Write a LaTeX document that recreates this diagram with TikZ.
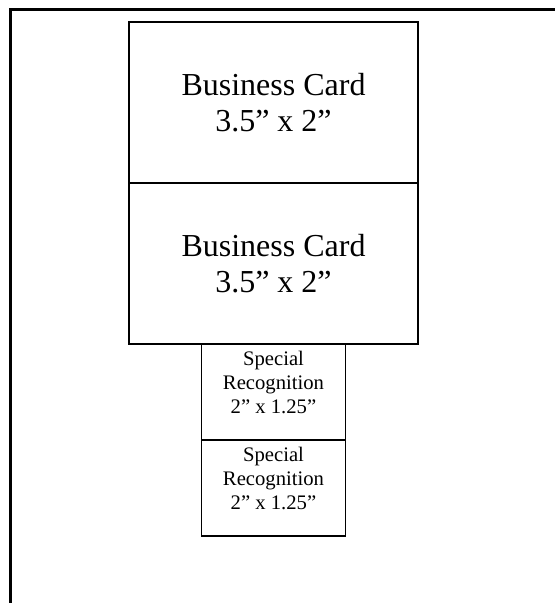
\documentclass[tikz,border=0pt]{standalone}
\usepackage{fontspec}
\setmainfont{Liberation Serif}
\usetikzlibrary{positioning}

% text hangs from the top of a small box
\newcommand{\awardtext}[1]{\parbox[c][72pt][t]{108pt}{\centering\rule{0pt}{15.75pt}#1}}

\begin{document}
\begin{tikzpicture}
	[x=0.75pt,y=-0.75pt%
	,every node/.style={draw=black,%
		rectangle,%
		line width=1.3pt,%
		outer sep=0pt,%
		inner sep=0pt}%
	,card/.style={minimum width=216.75pt,minimum height=120.75pt,%
		align=center,%
		font=\fontsize{24}{27}\selectfont}%
	,award/.style={minimum width=108pt,minimum height=72pt,%
		font=\fontsize{15.5}{18}\selectfont}]
	\useasboundingbox (0,0) rectangle (555,603);
	\draw[line width=1.9pt] (10.3,603) -- (10.3,9.5) -- (555,9.5);
	\node[card] (card1) at (273.5,102.5) {Business Card\\3.5” x 2”};
	\node[card,below=0pt of card1] (card2) {Business Card\\3.5” x 2”};
	\node[award,below=0pt of card2] (award1) {\awardtext{Special\\Recognition\\2” x 1.25”}};
	\node[award,below=0pt of award1] (award2) {\awardtext{Special\\Recognition\\2” x 1.25”}};
\end{tikzpicture}
\end{document}
